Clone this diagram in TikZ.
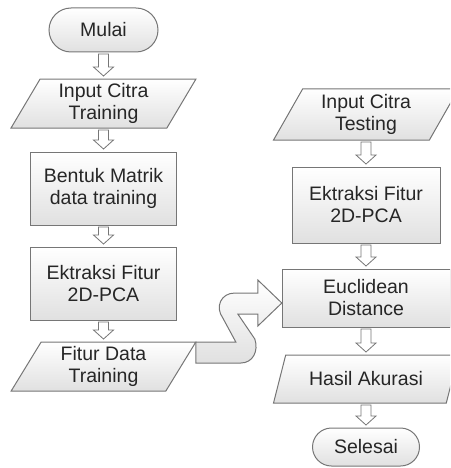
\documentclass[tikz,border=0pt]{standalone}
\usepackage{fontspec}
\setmainfont{Liberation Sans}
\usepackage{tikz}
\usetikzlibrary{positioning,calc,shapes.geometric,shapes.misc}
\definecolor{flowline}{RGB}{118,118,118}
\definecolor{flowtext}{RGB}{38,38,38}
\newcommand{\flowarrow}[2]{%
  \draw[hollow] let \p1=(#1.south), \p2=(#2.north) in
    (\x1-5pt,\y1-2pt) -- (\x1+5pt,\y1-2pt) -- (\x1+5pt,\y2+12pt) -- (\x1+10pt,\y2+12pt)
    -- (\x1,\y2+3pt) -- (\x1-10pt,\y2+12pt) -- (\x1-5pt,\y2+12pt) -- cycle;}

\begin{document}
\begin{tikzpicture}[
        x=1pt, y=1pt,
        every node/.style={font=\fontsize{19.5}{22}\selectfont, text=flowtext, align=center, outer sep=0pt, inner sep=2pt},
        boxfill/.style={draw=flowline, line width=1pt, top color=white, bottom color=black!12},
        term/.style={boxfill, rounded rectangle, minimum width=113pt, minimum height=44pt},
        io/.style={boxfill, trapezium, trapezium left angle=64, trapezium right angle=116, trapezium stretches=true, minimum width=185pt, minimum height=49pt},
        proc/.style={boxfill, rectangle, minimum width=146pt, minimum height=73pt},
        hollow/.style={draw=flowline, line width=0.8pt, fill=white}]
        \useasboundingbox (0,0) rectangle (450,-468);
        \clip (0,0) rectangle (450,-468);
        \node[term] (mulai) at (103.5,-30) {Mulai};
        \node[io, below=27pt of mulai] (inputtrain) {Input Citra\\Training};
        \node[proc, below=24pt of inputtrain] (matrik) {Bentuk Matrik\\data training};
        \node[proc, below=22pt of matrik] (ekstrain) {Ektraksi Fitur\\2D-PCA};
        \node[io, below=22pt of ekstrain] (fiturtrain) {Fitur Data\\Training};
        \node[io, minimum height=51pt] (inputtest) at (366,-114.5) {Input Citra\\Testing};
        \node[proc, minimum width=148pt, minimum height=76pt, below=27pt of inputtest] (ekstest) {Ektraksi Fitur\\2D-PCA};
        \node[proc, minimum width=168pt, minimum height=58pt, below=26pt of ekstest] (euclid) {Euclidean\\Distance};
        \node[io, minimum height=48pt, below=28pt of euclid] (hasil) {Hasil Akurasi};
        \node[term, minimum width=111pt, minimum height=38pt, below=25pt of hasil] (selesai) {Selesai};
        \flowarrow{mulai}{inputtrain}
        \flowarrow{inputtrain}{matrik}
        \flowarrow{matrik}{ekstrain}
        \flowarrow{ekstrain}{fiturtrain}
        \flowarrow{inputtest}{ekstest}
        \flowarrow{ekstest}{euclid}
        \flowarrow{euclid}{hasil}
        \flowarrow{hasil}{selesai}
        \begin{scope}[shift={(fiturtrain.top right corner)}]
          \draw[boxfill] (0,0) -- (0,-21) -- (45,-21) .. controls (57,-21) and (63,-9) .. (59,3)
            -- (42,28) -- (62,28) -- (62,16) -- (86,39) -- (62,62) -- (62,49) -- (39,49)
            .. controls (25,49) and (19,35) .. (27,24) -- (40,0) -- cycle;
        \end{scope}
      \end{tikzpicture}
\end{document}
